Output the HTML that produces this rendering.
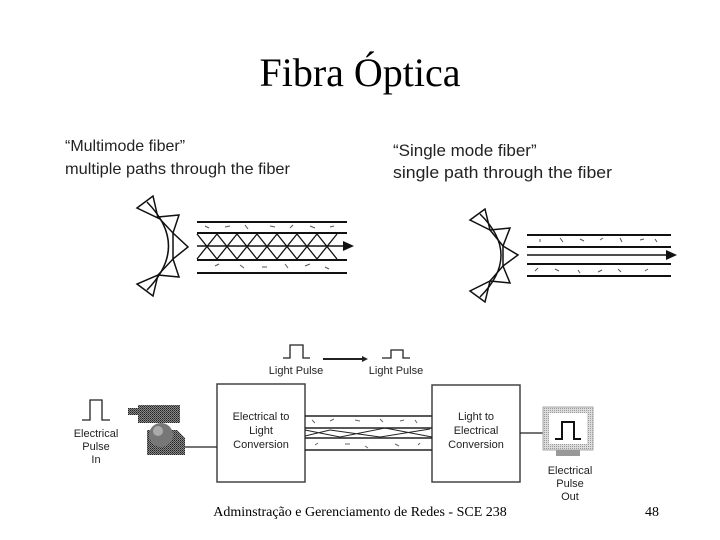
<!DOCTYPE html>
<html><head><meta charset="utf-8"><style>
html,body{margin:0;padding:0;background:#fff;}
svg{display:block;}
.s{font-family:"Liberation Sans",Arial,sans-serif;fill:#222;}
</style></head><body>
<svg width="720" height="540" viewBox="0 0 720 540" xmlns="http://www.w3.org/2000/svg">
<defs>
<pattern id="dith" width="2" height="2" patternUnits="userSpaceOnUse"><rect width="2" height="2" fill="#888"/><rect width="1" height="1" fill="#222"/><rect x="1" y="1" width="1" height="1" fill="#444"/></pattern>
<pattern id="dl" width="2" height="2" patternUnits="userSpaceOnUse"><rect width="2" height="2" fill="#ddd"/><rect width="1" height="1" fill="#999"/></pattern>
</defs>
<text x="360" y="86" text-anchor="middle" font-family="Liberation Serif,serif" font-size="40" fill="#000">Fibra Óptica</text>

<text class="s" x="65" y="151" font-size="16">“Multimode fiber”</text>
<text class="s" x="65" y="174" font-size="16" textLength="225" lengthAdjust="spacingAndGlyphs">multiple paths through the fiber</text>
<text class="s" x="393" y="156" font-size="17">“Single mode fiber”</text>
<text class="s" x="393" y="178" font-size="17" textLength="219" lengthAdjust="spacingAndGlyphs">single path through the fiber</text>

<!-- multimode source -->
<g fill="none" stroke="#111" stroke-width="1.5">
<path d="M147,202 Q190,246 147,290"/>
<polygon points="137,208 153,196 158,218"/>
<polygon points="158,217 179,215 173,233"/>
<polygon points="173,233 188,247 173,259"/>
<polygon points="173,259 179,277 158,275"/>
<polygon points="158,275 153,296 137,284"/>
<line x1="197" y1="222" x2="347" y2="222" stroke-width="2"/>
<line x1="197" y1="233" x2="347" y2="233" stroke-width="2"/>
<line x1="197" y1="260" x2="347" y2="260" stroke-width="2"/>
<line x1="197" y1="273" x2="347" y2="273" stroke-width="2"/>
<line x1="197" y1="246" x2="350" y2="246"/>
<path d="M197,234 L217,259 L237,234 L257,259 L277,234 L297,259 L317,234 L337,259 M197,259 L217,234 L237,259 L257,234 L277,259 L297,234 L317,259 L337,234" stroke-width="1.3"/>
</g>
<polygon points="343,241 354,246 343,251" fill="#111"/>
<g stroke="#555" stroke-width="1" fill="none">
<path d="M205,226l4,2 M225,227l5,-1 M245,225l3,4 M270,226l5,1 M290,228l3,-3 M310,226l5,2 M330,227l4,-1 M215,266l4,-2 M240,265l4,3 M262,267l5,0 M285,264l3,4 M305,266l5,-2 M325,267l4,2"/>
</g>

<!-- single mode source -->
<g fill="none" stroke="#111" stroke-width="1.5">
<path d="M480,214 Q522,255 480,297"/>
<polygon points="470,220 485,209 490,230"/>
<polygon points="490,230 510,228 503,246"/>
<polygon points="503,246 518,255 503,266"/>
<polygon points="503,266 510,283 490,281"/>
<polygon points="490,281 485,302 470,291"/>
<line x1="527" y1="235" x2="671" y2="235" stroke-width="2"/>
<line x1="527" y1="247" x2="671" y2="247" stroke-width="2"/>
<line x1="527" y1="255" x2="668" y2="255" stroke-width="1.5"/>
<line x1="527" y1="264" x2="671" y2="264" stroke-width="2"/>
<line x1="527" y1="276" x2="671" y2="276" stroke-width="2"/>
</g>
<polygon points="666,250 677,255 666,260" fill="#111"/>
<g stroke="#555" stroke-width="1" fill="none">
<path d="M540,239l0,3 M560,238l3,4 M580,239l4,2 M600,240l3,-2 M620,238l2,4 M640,240l4,-1 M655,239l2,3 M535,271l3,-3 M555,269l4,2 M578,270l2,3 M598,272l4,-2 M618,269l3,3 M645,271l3,-2"/>
</g>

<!-- bottom -->
<g fill="none" stroke="#222" stroke-width="1.3">
<path d="M283,358 H290 V345 H303 V358 H310"/>
<path d="M382,358 H391 V350 H403 V358 H410"/>
<line x1="323" y1="359" x2="362" y2="359" stroke-width="2"/>
<path d="M82,420 H90 V400 H102 V420 H110"/>
<rect x="217" y="384" width="88" height="98" stroke="#444" stroke-width="1.5"/>
<rect x="432" y="385" width="88" height="97" stroke="#444" stroke-width="1.5"/>
<line x1="305" y1="416" x2="432" y2="416" stroke-width="1.5"/>
<line x1="305" y1="428" x2="432" y2="428" stroke-width="1.5"/>
<line x1="305" y1="438" x2="432" y2="438" stroke-width="1.5"/>
<line x1="305" y1="450" x2="432" y2="450" stroke-width="1.5"/>
<path d="M305,430 L340,437 L385,428 L432,437 M305,436 L330,430 L380,437 L430,429" stroke-width="1"/>
<line x1="185" y1="447" x2="217" y2="447"/>
<line x1="520" y1="433" x2="543" y2="433"/>
</g>
<polygon points="362,356 368,359 362,362" fill="#222"/>
<g stroke="#666" stroke-width="1" fill="none">
<path d="M312,420l3,3 M330,421l4,-2 M355,420l5,1 M380,419l3,3 M400,421l4,-1 M415,420l2,3 M315,445l3,-2 M345,444l5,0 M365,446l3,2 M395,444l4,2 M418,445l2,-2"/>
</g>
<text class="s" x="296" y="374" font-size="11" text-anchor="middle">Light Pulse</text>
<text class="s" x="396" y="374" font-size="11" text-anchor="middle">Light Pulse</text>
<g class="s" font-size="11" text-anchor="middle">
<text x="261" y="420">Electrical to</text><text x="261" y="434">Light</text><text x="261" y="448">Conversion</text>
<text x="476" y="420">Light to</text><text x="476" y="434">Electrical</text><text x="476" y="448">Conversion</text>
<text x="96" y="437">Electrical</text><text x="96" y="450">Pulse</text><text x="96" y="463">In</text>
<text x="570" y="474">Electrical</text><text x="570" y="487">Pulse</text><text x="570" y="500">Out</text>
</g>
<rect x="128" y="408" width="10" height="7" fill="url(#dith)"/>
<rect x="138" y="405" width="42" height="18" fill="url(#dith)"/>
<path d="M147,430 H177 L185,438 V455 H147 Z" fill="url(#dith)"/>
<circle cx="161" cy="435" r="12" fill="#777"/>
<circle cx="158" cy="431" r="5" fill="#aaa"/>
<rect x="543" y="407" width="50" height="43" fill="url(#dl)" stroke="#aaa"/>
<rect x="549" y="413" width="38" height="31" fill="#fff"/>
<path d="M555,439 H562 V422 H574 V439 H581" fill="none" stroke="#111" stroke-width="2"/>
<rect x="556" y="450" width="24" height="6" fill="#999"/>

<text x="360" y="516" text-anchor="middle" font-family="Liberation Serif,serif" font-size="14" fill="#000">Adminstração e Gerenciamento de Redes - SCE 238</text>
<text x="652" y="516" text-anchor="middle" font-family="Liberation Serif,serif" font-size="14" fill="#000">48</text>
</svg>
</body></html>
